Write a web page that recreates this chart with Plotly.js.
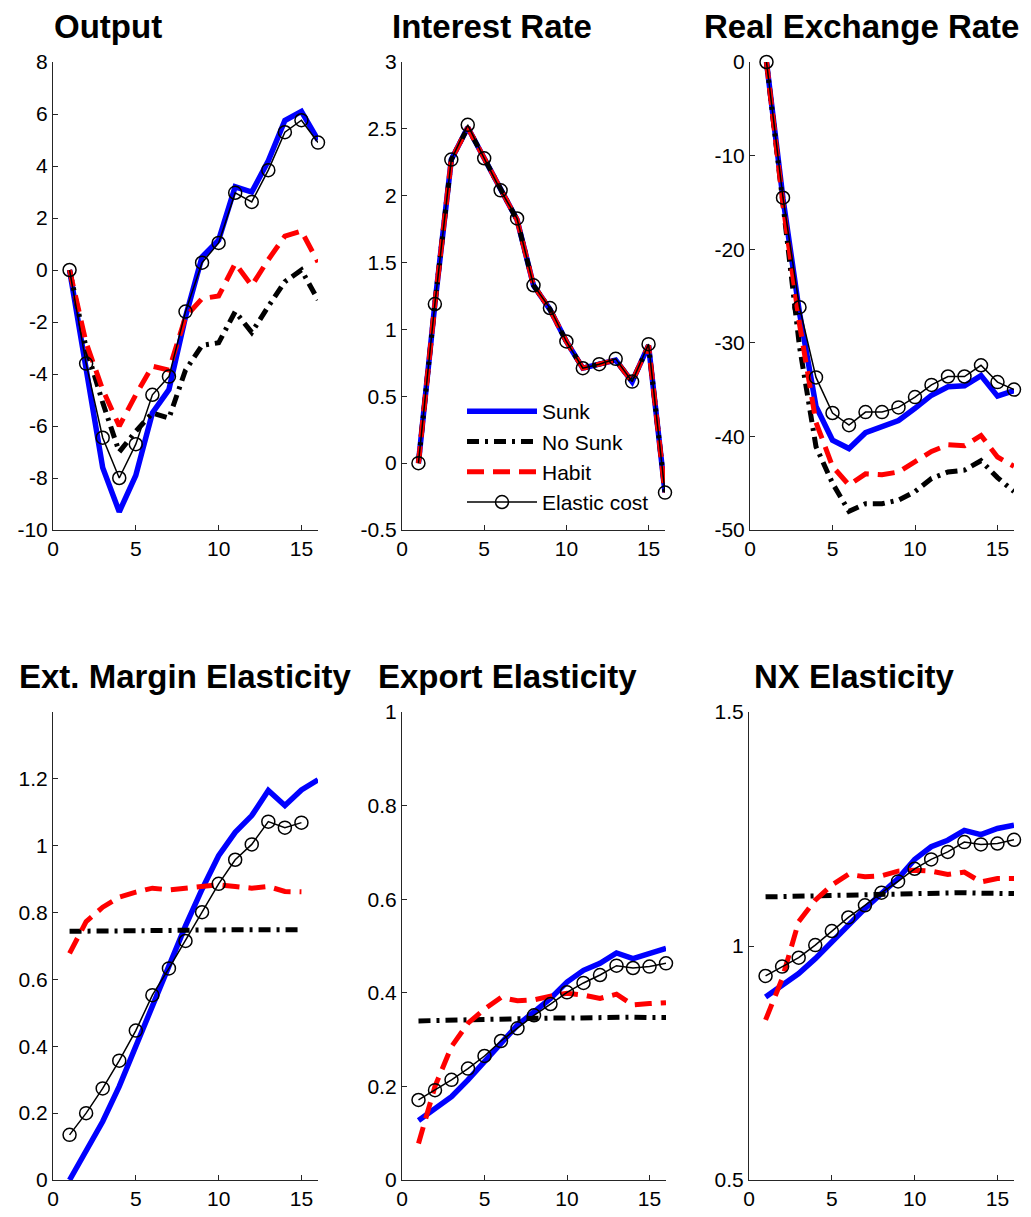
<!DOCTYPE html>
<html>
<head>
<meta charset="utf-8">
<script src="https://cdn.plot.ly/plotly-3.0.1.min.js"></script>
<style>html,body{margin:0;padding:0;background:#fff;}#chart{width:1031px;height:1217px;}</style>
</head>
<body>
<div id="chart"></div>
<script>
// ---------- data ----------
const periods = [1, 2, 3, 4, 5, 6, 7, 8, 9, 10, 11, 12, 13, 14, 15, 16];
const seriesNames = ["Sunk", "No Sunk", "Habit", "Elastic cost"];
const panelTitles = ["Output", "Interest Rate", "Real Exchange Rate", "Ext. Margin Elasticity", "Export Elasticity", "NX Elasticity"];

const outputSunk    = [0, -3.9, -7.6, -9.3, -7.9, -5.5, -4.6, -1.8, 0.5, 1.15, 3.2, 3.0, 4.2, 5.75, 6.1, 5.0];
const outputNoSunk  = [0, -3.0, -5.1, -7.0, -6.2, -5.5, -5.7, -3.85, -2.9, -2.8, -1.6, -2.4, -1.4, -0.45, 0.0, -1.15];
const outputHabit   = [0, -2.8, -4.6, -6.0, -4.8, -3.7, -3.85, -1.8, -1.1, -1.0, 0.25, -0.6, 0.4, 1.3, 1.5, 0.3];
const outputElastic = [0, -3.6, -6.45, -8.0, -6.7, -4.8, -4.1, -1.6, 0.28, 1.04, 2.97, 2.62, 3.84, 5.3, 5.76, 4.9];

const rateSunk    = [0, 1.19, 2.27, 2.51, 2.28, 2.04, 1.82, 1.33, 1.15, 0.91, 0.71, 0.74, 0.77, 0.61, 0.88, -0.22];
const rateNoSunk  = [0, 1.19, 2.27, 2.51, 2.28, 2.04, 1.82, 1.33, 1.15, 0.91, 0.71, 0.74, 0.77, 0.61, 0.88, -0.22];
const rateHabit   = [0, 1.19, 2.27, 2.51, 2.28, 2.04, 1.82, 1.33, 1.15, 0.91, 0.71, 0.74, 0.77, 0.61, 0.88, -0.22];
const rateElastic = [0, 1.19, 2.27, 2.53, 2.28, 2.04, 1.83, 1.33, 1.16, 0.91, 0.71, 0.74, 0.78, 0.61, 0.89, -0.22];

const rerSunk    = [0, -14.6, -26.8, -36.8, -40.4, -41.3, -39.6, -39.0, -38.3, -37.0, -35.6, -34.7, -34.6, -33.5, -35.7, -35.1];
const rerNoSunk  = [0, -15.8, -30.4, -41.1, -45.0, -48.0, -47.2, -47.2, -46.8, -45.9, -44.5, -43.8, -43.6, -42.6, -44.4, -45.9];
const rerHabit   = [0, -15.2, -28.0, -38.5, -43.2, -45.2, -44.0, -44.1, -43.8, -42.7, -41.6, -40.9, -41.0, -39.9, -42.2, -43.2];
const rerElastic = [0, -14.5, -26.2, -33.7, -37.5, -38.8, -37.4, -37.4, -36.9, -35.8, -34.5, -33.6, -33.6, -32.4, -34.2, -35.0];

const extSunk    = [0.0, 0.09, 0.175, 0.28, 0.40, 0.53, 0.65, 0.76, 0.87, 0.97, 1.04, 1.09, 1.165, 1.12, 1.167, 1.197];
const extNoSunk  = [0.744, 0.744, 0.745, 0.745, 0.746, 0.747, 0.747, 0.747, 0.748, 0.748, 0.748, 0.748, 0.749, 0.749, 0.749];
const extHabit   = [0.678, 0.773, 0.816, 0.846, 0.861, 0.873, 0.868, 0.872, 0.876, 0.883, 0.878, 0.873, 0.878, 0.863, 0.862];
const extElastic = [0.135, 0.2, 0.274, 0.357, 0.447, 0.553, 0.633, 0.715, 0.801, 0.886, 0.958, 1.004, 1.072, 1.054, 1.069];

const expSunk    = [0.127, 0.153, 0.178, 0.214, 0.253, 0.295, 0.331, 0.359, 0.388, 0.423, 0.448, 0.463, 0.485, 0.473, 0.485, 0.495];
const expNoSunk  = [0.340, 0.341, 0.341, 0.342, 0.343, 0.343, 0.344, 0.345, 0.346, 0.346, 0.347, 0.347, 0.348, 0.348, 0.347, 0.347];
const expHabit   = [0.078, 0.2, 0.285, 0.335, 0.365, 0.39, 0.383, 0.385, 0.393, 0.399, 0.395, 0.388, 0.397, 0.374, 0.377, 0.379];
const expElastic = [0.171, 0.192, 0.214, 0.238, 0.265, 0.297, 0.324, 0.352, 0.376, 0.401, 0.421, 0.438, 0.458, 0.453, 0.456, 0.463];

const nxSunk    = [0.891, 0.916, 0.941, 0.973, 1.009, 1.048, 1.080, 1.112, 1.144, 1.185, 1.212, 1.226, 1.247, 1.238, 1.251, 1.258];
const nxNoSunk  = [1.105, 1.105, 1.106, 1.107, 1.108, 1.109, 1.110, 1.111, 1.111, 1.112, 1.112, 1.113, 1.114, 1.113, 1.112, 1.112];
const nxHabit   = [0.842, 0.93, 1.052, 1.098, 1.130, 1.153, 1.148, 1.150, 1.160, 1.162, 1.160, 1.153, 1.158, 1.137, 1.144, 1.144];
const nxElastic = [0.936, 0.956, 0.975, 1.002, 1.032, 1.061, 1.087, 1.114, 1.138, 1.165, 1.185, 1.201, 1.222, 1.217, 1.219, 1.227];

const xTicks = [0, 5, 10, 15];
const yTicksOutput = [-10, -8, -6, -4, -2, 0, 2, 4, 6, 8];
const yTicksRate = [-0.5, 0, 0.5, 1, 1.5, 2, 2.5, 3];
const yTicksRer = [-50, -40, -30, -20, -10, 0];
const yTicksExt = [0, 0.2, 0.4, 0.6, 0.8, 1, 1.2];
const yTicksExp = [0, 0.2, 0.4, 0.6, 0.8, 1];
const yTicksNx = [0.5, 1, 1.5];

// ---------- layout helpers ----------
const W = 1031, H = 1217;
const panels = [
  {data: [outputSunk, outputNoSunk, outputHabit, outputElastic], range: [-10, 8], ticks: yTicksOutput, px: [53, 318], py: [62, 530], title: [108, 27]},
  {data: [rateSunk, rateNoSunk, rateHabit, rateElastic], range: [-0.5, 3], ticks: yTicksRate, px: [402, 665], py: [62, 530], title: [492, 27]},
  {data: [rerSunk, rerNoSunk, rerHabit, rerElastic], range: [-50, 0], ticks: yTicksRer, px: [750, 1014], py: [62, 530], title: [861, 27]},
  {data: [extSunk, extNoSunk, extHabit, extElastic], range: [0, 1.4], ticks: yTicksExt, px: [53, 318], py: [712, 1180], title: [185, 676]},
  {data: [expSunk, expNoSunk, expHabit, expElastic], range: [0, 1], ticks: yTicksExp, px: [402, 666], py: [712, 1180], title: [507, 676]},
  {data: [nxSunk, nxNoSunk, nxHabit, nxElastic], range: [0.5, 1.5], ticks: yTicksNx, px: [749, 1014], py: [712, 1180], title: [854, 676]}
];

const styles = [
  {mode: 'lines', line: {color: '#0000FF', width: 5.5}},
  {mode: 'lines', line: {color: '#000000', width: 5, dash: '12px,6px,3px,6px'}},
  {mode: 'lines', line: {color: '#FF0000', width: 5, dash: '17px,9px'}},
  {mode: 'lines+markers', line: {color: '#000000', width: 1.5}, marker: {symbol: 'circle-open', size: 13, color: '#000000', line: {width: 1.5}}}
];

const traces = [];
const layout = {
  width: W, height: H,
  margin: {l: 0, r: 0, t: 0, b: 0},
  paper_bgcolor: '#ffffff', plot_bgcolor: '#ffffff',
  font: {family: 'Liberation Sans, Arial, sans-serif', size: 21, color: '#000000'},
  showlegend: true,
  legend: {x: 462 / W, y: 1 - 391 / H, xanchor: 'left', yanchor: 'top', bgcolor: 'rgba(0,0,0,0)',
           font: {size: 21, color: '#000000'}, itemwidth: 70, tracegroupgap: 0},
  annotations: []
};

panels.forEach((p, i) => {
  const k = i + 1;
  const xa = 'xaxis' + (k === 1 ? '' : k), ya = 'yaxis' + (k === 1 ? '' : k);
  const xr = 'x' + (k === 1 ? '' : k), yr = 'y' + (k === 1 ? '' : k);
  p.data.forEach((vals, s) => {
    traces.push(Object.assign({
      type: 'scatter',
      x: periods.slice(0, vals.length),
      y: vals,
      xaxis: xr, yaxis: yr,
      name: seriesNames[s],
      showlegend: i === 1,
      cliponaxis: false,
      hoverinfo: 'skip'
    }, JSON.parse(JSON.stringify(styles[s]))));
  });
  const common = {
    showgrid: false, zeroline: false, showline: true, linecolor: '#262626', linewidth: 1,
    ticks: 'inside', ticklen: 5, tickwidth: 1, tickcolor: '#262626',
    tickfont: {size: 21, color: '#000000'}, fixedrange: true
  };
  layout[xa] = Object.assign({}, common, {
    domain: [p.px[0] / W, p.px[1] / W], range: [0, 16], anchor: yr,
    tickmode: 'array', tickvals: xTicks, ticktext: xTicks.map(String)
  });
  layout[ya] = Object.assign({}, common, {
    domain: [1 - p.py[1] / H, 1 - p.py[0] / H], range: p.range, anchor: xr,
    tickmode: 'array', tickvals: p.ticks, ticktext: p.ticks.map(String)
  });
  layout.annotations.push({
    text: '<b>' + panelTitles[i] + '</b>', xref: 'paper', yref: 'paper',
    x: p.title[0] / W, y: 1 - p.title[1] / H, xanchor: 'center', yanchor: 'middle',
    showarrow: false, font: {size: 33, color: '#000000'}
  });
});

Plotly.newPlot('chart', traces, layout, {staticPlot: true, displayModeBar: false});
</script>
</body>
</html>
